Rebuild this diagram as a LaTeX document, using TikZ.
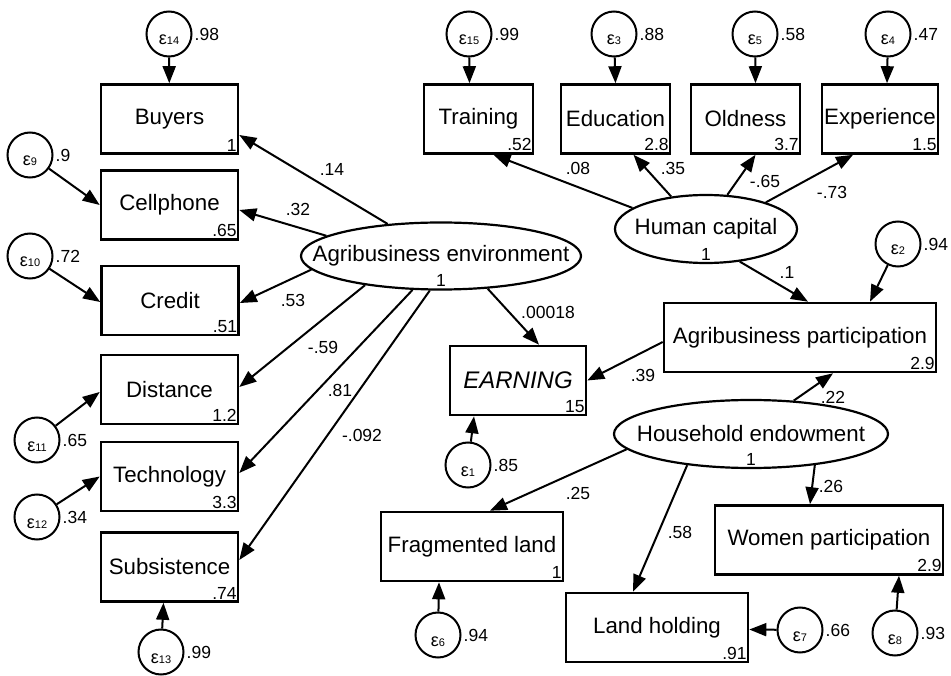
\documentclass[tikz,border=0pt]{standalone}
\usepackage{fontspec}
\setmainfont{Liberation Sans}
\usepackage{tikz}
\usetikzlibrary{shapes.geometric, arrows.meta}

\newcommand{\varsize}{\fontsize{22.3}{25}\selectfont}
\newcommand{\numsize}{\fontsize{17.5}{19}\selectfont}
\newcommand{\errname}[1]{{\fontsize{18}{18}\selectfont ε}{\fontsize{11}{11}\selectfont #1}}

\begin{document}
\begin{tikzpicture}[x=1pt, y=-1pt,
  obs/.style={draw, rectangle, line width=2.6pt, minimum height=69pt, inner sep=0pt, font=\varsize},
  lat/.style={draw, ellipse, line width=2.2pt, inner sep=0pt, font=\varsize,
    execute at begin node={\hbox to 0pt\bgroup\hss}, execute at end node={\hss\egroup}},
  err/.style={draw, circle, line width=2pt, minimum size=45pt, inner sep=0pt, text height=22pt, text depth=0pt},
  num/.style={font=\numsize, inner xsep=2.5pt, inner ysep=3.5pt},
  coef/.style={font=\numsize, inner sep=1pt},
  arr/.style={-{Triangle[length=17pt, width=13pt]}, line width=2pt}]

\useasboundingbox (0,0) rectangle (951,676);

% Latent variables
\node (agrienv) [lat, minimum width=280pt, minimum height=67pt, label={[num, anchor=south]south:1}] at (441,256) {Agribusiness environment};
\node (humcap) [lat, minimum width=182pt, minimum height=68pt, label={[num, anchor=south]south:1}] at (706,229) {Human capital};
\node (household) [lat, minimum width=274pt, minimum height=68pt, label={[num, anchor=south]south:1}] at (751,434) {Household endowment};

% Observed variables, left column
\node (buyers) [obs, minimum width=137pt, label={[num, anchor=south east]south east:1}] at (169.5,119) {Buyers};
\node (cellphone) [obs, minimum width=137pt, label={[num, anchor=south east]south east:.65}] at (169.5,205) {Cellphone};
\node (credit) [obs, minimum width=137pt, label={[num, anchor=south east]south east:.51}] at (170,300.5) {Credit};
\node (distance) [obs, minimum width=137pt, label={[num, anchor=south east]south east:1.2}] at (169.5,389.5) {Distance};
\node (technology) [obs, minimum width=137pt, label={[num, anchor=south east]south east:3.3}] at (169.5,476.5) {Technology};
\node (subsistence) [obs, minimum width=137pt, label={[num, anchor=south east]south east:.74}] at (169.5,567) {Subsistence};

% Observed variables, top row
\node (training) [obs, minimum width=109pt, label={[num, anchor=south east]south east:.52}] at (478.5,119) {Training};
\node (education) [obs, minimum width=109pt, label={[num, anchor=south east]south east:2.8}] at (615.5,119) {Education};
\node (oldness) [obs, minimum width=109pt, label={[num, anchor=south east]south east:3.7}] at (745.5,119) {Oldness};
\node (experience) [obs, minimum width=116pt, label={[num, anchor=south east]south east:1.5}] at (880,119) {Experience};

% Observed variables, right part
\node (agripart) [obs, minimum width=272pt, label={[num, anchor=south east]south east:2.9}] at (800,337.5) {Agribusiness participation};
\node (earning) [obs, minimum width=136pt, font=\fontsize{24}{26}\selectfont\itshape, label={[num, anchor=south east]south east:15}] at (518,380.5) {EARNING};
\node (fragland) [obs, minimum width=182pt, label={[num, anchor=south east]south east:1}] at (472,546.5) {Fragmented land};
\node (landhold) [obs, minimum width=182pt, label={[num, anchor=south east]south east:.91}] at (657,627.5) {Land holding};
\node (women) [obs, minimum width=228pt, label={[num, anchor=south east]south east:2.9}] at (829,540) {Women participation};

% Error terms
\node (e14) [err, label={[num, inner sep=2pt]east:.98}] at (169,34) {\errname{14}};
\node (e9) [err, label={[num, inner sep=2pt]east:.9}] at (30,155) {\errname{9}};
\node (e10) [err, label={[num, inner sep=2pt]east:.72}] at (30,256) {\errname{10}};
\node (e11) [err, label={[num, inner sep=2pt]east:.65}] at (37,440) {\errname{11}};
\node (e12) [err, label={[num, inner sep=2pt]east:.34}] at (37,517) {\errname{12}};
\node (e13) [err, label={[num, inner sep=2pt]east:.99}] at (161,652) {\errname{13}};
\node (e15) [err, label={[num, inner sep=2pt]east:.99}] at (469,34) {\errname{15}};
\node (e3) [err, label={[num, inner sep=2pt]east:.88}] at (614,34) {\errname{3}};
\node (e5) [err, label={[num, inner sep=2pt]east:.58}] at (755,34) {\errname{5}};
\node (e4) [err, label={[num, inner sep=2pt]east:.47}] at (888,34) {\errname{4}};
\node (e2) [err, label={[num, inner sep=2pt]east:.94}] at (898,244) {\errname{2}};
\node (e1) [err, label={[num, inner sep=2pt]east:.85}] at (468,465) {\errname{1}};
\node (e6) [err, label={[num, inner sep=2pt]east:.94}] at (438,635) {\errname{6}};
\node (e7) [err, label={[num, inner sep=2pt]east:.66}] at (800,630) {\errname{7}};
\node (e8) [err, label={[num, inner sep=2pt]east:.93}] at (895,633) {\errname{8}};

% Paths from Agribusiness environment
\draw[arr] (agrienv.149) -- ([yshift=-16pt]buyers.east);
\draw[arr] (agrienv.170) -- ([yshift=-5pt]cellphone.east);
\draw[arr] (agrienv.186) -- ([yshift=-2.5pt]credit.east);
\draw[arr] (agrienv.201) -- ([yshift=2.5pt]distance.east);
\draw[arr] (agrienv.230) -- ([yshift=3.5pt]technology.east);
\draw[arr] (agrienv.252) -- ([yshift=7pt]subsistence.east);
\draw[arr] (agrienv.325) -- ([xshift=21pt]earning.north);

% Paths from Human capital
\draw[arr] (humcap.164) -- ([xshift=15pt]training.south);
\draw[arr] (humcap.137) -- ([xshift=18pt]education.south);
\draw[arr] (humcap.58) -- ([xshift=10pt]oldness.south);
\draw[arr] (humcap.24) -- ([xshift=-27pt]experience.south);
\draw[arr] (humcap.316) -- ([xshift=8pt]agripart.north);

% Paths from Household endowment
\draw[arr] (household.38) -- ([xshift=33pt]agripart.south);
\draw[arr] (household.187) -- ([xshift=18pt]fragland.north);
\draw[arr] (household.206) -- ([xshift=-24pt]landhold.north);
\draw[arr] (household.334) -- ([xshift=-19pt]women.north);
\draw[arr] ([yshift=-4.5pt]agripart.west) -- (earning.east);

% Error arrows
\draw[arr] (e14) -- (buyers);
\draw[arr] (e9) -- (cellphone.west);
\draw[arr] (e10) -- ([yshift=-1.5pt]credit.west);
\draw[arr] (e11) -- ([yshift=-2.5pt]distance.west);
\draw[arr] (e12) -- (technology.west);
\draw[arr] (e13) -- ([xshift=-6pt]subsistence.south);
\draw[arr] (e15) -- ([xshift=-9pt]training.north);
\draw[arr] (e3) -- (education.north);
\draw[arr] (e5) -- ([xshift=10pt]oldness.north);
\draw[arr] (e4) -- ([xshift=7pt]experience.north);
\draw[arr] (e2) -- ([xshift=70pt]agripart.north);
\draw[arr] (e1) -- ([xshift=-44pt]earning.south);
\draw[arr] (e6) -- ([xshift=-33pt]fragland.south);
\draw[arr] (e7) -- ([yshift=-2pt]landhold.east);
\draw[arr] (e8) -- ([xshift=70pt]women.south);

% Coefficients
\node (c-buyers) [coef] at (332,169) {.14};
\node (c-cellphone) [coef] at (298,209) {.32};
\node (c-credit) [coef] at (293,300) {.53};
\node (c-distance) [coef] at (323,347) {-.59};
\node (c-technology) [coef] at (340,390) {.81};
\node (c-subsistence) [coef] at (362,435) {-.092};
\node (c-earning) [coef] at (548,312) {.00018};
\node (c-training) [coef] at (578,168) {.08};
\node (c-education) [coef] at (673,168) {.35};
\node (c-oldness) [coef] at (765,181) {-.65};
\node (c-experience) [coef] at (832,192) {-.73};
\node (c-humpart) [coef] at (787,272) {.1};
\node (c-partearn) [coef] at (643,375) {.39};
\node (c-housepart) [coef] at (833,397) {.22};
\node (c-fragland) [coef] at (578,493) {.25};
\node (c-landhold) [coef] at (680,532) {.58};
\node (c-women) [coef] at (831,486) {.26};

\end{tikzpicture}
\end{document}
